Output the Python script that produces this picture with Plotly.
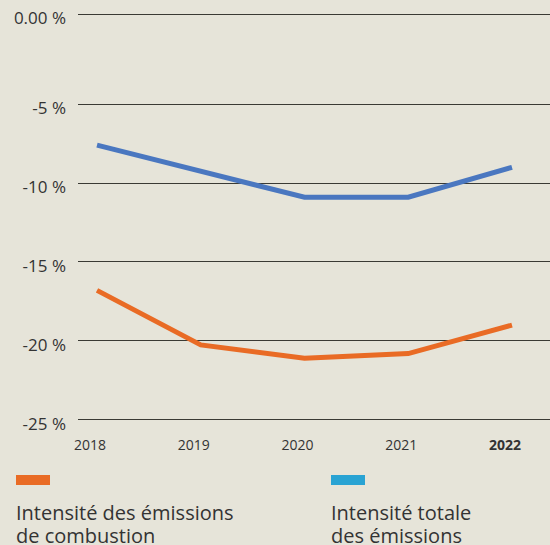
import plotly.graph_objects as go

years = [2018, 2019, 2020, 2021, 2022]
combustion = [-16.8, -20.25, -21.1, -20.8, -19.0]
totale = [-7.6, -9.25, -10.9, -10.9, -9.0]

ytick_vals = [-25, -20, -15, -10, -5, 0.7]
ytick_text = ["-25 %", "-20 %", "-15 %", "-10 %", "-5 %", "0.00 %"]
xtick_text = ["2018", "2019", "2020", "2021", "<b>2022</b>"]

legend_lines = [["Intensité des émissions", "de combustion"],
                ["Intensité totale", "des émissions"]]
legend_colors = ["#E96B25", "#29A3D3"]

BG = "#E6E4D9"
TXT = "#333333"
FONT = "Open Sans"

W, H = 550, 545
ML, MR, MT, MB = 78, 0, 11, 122
PW, PH = W - ML - MR, H - MT - MB

def px_x(x):
    return (x - ML) / PW

def px_y(y):
    return (H - MB - y) / PH

fig = go.Figure()
fig.add_trace(go.Scatter(x=years, y=totale, mode="lines",
                         line=dict(color="#4A77C0", width=5), showlegend=False))
fig.add_trace(go.Scatter(x=years, y=combustion, mode="lines",
                         line=dict(color="#E96B25", width=5), showlegend=False))

# custom legend
leg_x = [16, 331]
for i, (lines, col) in enumerate(zip(legend_lines, legend_colors)):
    fig.add_shape(type="rect", xref="paper", yref="paper",
                  x0=px_x(leg_x[i]), x1=px_x(leg_x[i] + 34),
                  y0=px_y(485), y1=px_y(475),
                  fillcolor=col, line=dict(width=0))
    for j, txt in enumerate(lines):
        fig.add_annotation(xref="paper", yref="paper", x=px_x(leg_x[i] - 2),
                           y=px_y(512 + 23 * j),
                           text=txt, showarrow=False, xanchor="left", yanchor="middle",
                           align="left", font=dict(family=FONT, size=20, color=TXT))

fig.update_layout(
    width=W, height=H,
    margin=dict(l=ML, r=MR, t=MT, b=MB),
    paper_bgcolor=BG, plot_bgcolor=BG,
    font=dict(family=FONT, color=TXT),
    xaxis=dict(range=[2018 - 19 / 103.75, 2022 + 38 / 103.75],
               tickvals=years, ticktext=xtick_text,
               showgrid=False, zeroline=False, showline=False,
               tickfont=dict(size=14, color=TXT, family=FONT),
               ticklabelshift=-7, ticklabelstandoff=12),
    yaxis=dict(range=[-25.2, 0.9], tickvals=ytick_vals, ticktext=ytick_text,
               showgrid=True, gridcolor="#3a3a34", gridwidth=1.2,
               zeroline=False, showline=False,
               tickfont=dict(size=17, color=TXT, family=FONT),
               ticklabelstandoff=11, ticklabelshift=4),
)

fig.write_html("out.html", config={"displayModeBar": False},
               post_script="document.body.style.margin='0';document.body.style.overflow='hidden';")
